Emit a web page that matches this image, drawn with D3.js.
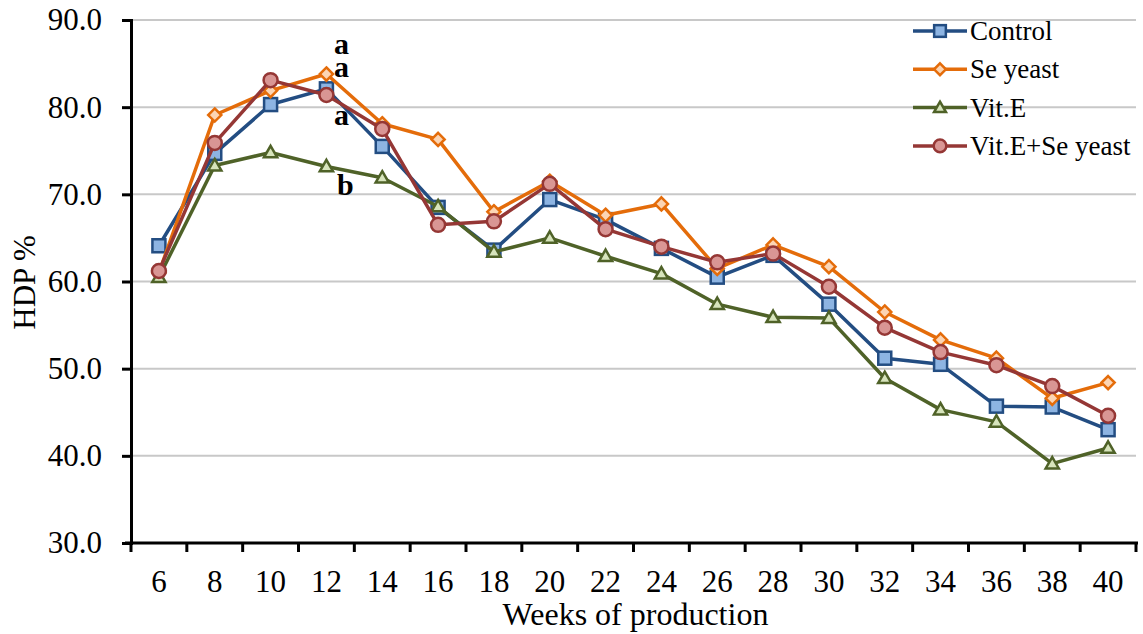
<!DOCTYPE html>
<html>
<head>
<meta charset="utf-8">
<script src="https://cdn.jsdelivr.net/npm/d3@7"></script>
<style>
  html, body { margin: 0; padding: 0; background: #fff; }
  svg { display: block; }
  svg text { font-family: "Liberation Serif", "Times New Roman", serif; }
</style>
</head>
<body>
<svg id="chart" width="1143" height="634"></svg>
<script>
// Hen-day production (HDP %) by week of production
const weeks = [6, 8, 10, 12, 14, 16, 18, 20, 22, 24, 26, 28, 30, 32, 34, 36, 38, 40];
const control   = [64.1, 74.7, 80.3, 82.1, 75.5, 68.5, 63.6, 69.4, 67.1, 63.8, 60.5, 63.0, 57.4, 51.2, 50.5, 45.7, 45.6, 43.0];
const seYeast   = [61.0, 79.1, 81.9, 83.8, 78.1, 76.3, 68.0, 71.5, 67.6, 68.9, 61.5, 64.2, 61.7, 56.5, 53.3, 51.2, 46.6, 48.4];
const vitE      = [60.5, 73.3, 74.8, 73.2, 71.9, 68.6, 63.4, 65.0, 62.9, 60.9, 57.4, 55.9, 55.8, 48.9, 45.3, 43.9, 39.1, 40.9];
const vitESe    = [61.2, 75.9, 83.1, 81.4, 77.5, 66.5, 66.9, 71.2, 66.0, 64.0, 62.2, 63.2, 59.4, 54.7, 51.9, 50.4, 48.0, 44.6];
const yTicks    = [30, 40, 50, 60, 70, 80, 90];
const seriesNames = ["Control", "Se yeast", "Vit.E", "Vit.E+Se yeast"];
// Significance letters at week 12 (baseline heights on the HDP scale)
const letterWeek = 12;
const letters    = [{ t: "a", v: 86.1 }, { t: "a", v: 83.5 }, { t: "a", v: 78.0 }, { t: "b", v: 69.9 }];

const series = [
  { name: seriesNames[0], values: control, stroke: "#234D82", fill: "#8DB4E2", shape: "square" },
  { name: seriesNames[1], values: seYeast, stroke: "#E46C0A", fill: "#FCD5B4", shape: "diamond" },
  { name: seriesNames[2], values: vitE,    stroke: "#4F6228", fill: "#D7E4BC", shape: "triangle" },
  { name: seriesNames[3], values: vitESe,  stroke: "#953735", fill: "#D99694", shape: "circle" }
];

const svg = d3.select("#chart");
const m = { left: 131, right: 1136, top: 20, bottom: 543 };

const x = d3.scaleBand().domain(weeks).range([m.left, m.right]).paddingInner(0).paddingOuter(0);
const y = d3.scaleLinear().domain([30, 90]).range([m.bottom, m.top]);
const cx = w => x(w) + x.bandwidth() / 2;

// Horizontal gridlines
svg.append("g")
  .selectAll("line")
  .data(yTicks.filter(t => t > 30))
  .join("line")
  .attr("x1", m.left).attr("x2", m.right)
  .attr("y1", d => y(d)).attr("y2", d => y(d))
  .attr("stroke", "#c8c8c8").attr("stroke-width", 2);

// Y axis
const yAxis = svg.append("g")
  .attr("transform", `translate(${m.left},0)`)
  .call(d3.axisLeft(y).tickValues(yTicks).tickFormat(d3.format(".1f")).tickSize(9).tickPadding(20))
  .attr("font-family", null).attr("font-size", null);
yAxis.select(".domain").attr("stroke", "#000").attr("stroke-width", 3);
yAxis.selectAll(".tick line").attr("stroke", "#000").attr("stroke-width", 3);
yAxis.selectAll(".tick text")
  .attr("font-size", 31).attr("fill", "#000");

// X axis: ticks at category boundaries
const xAxisG = svg.append("g").attr("transform", `translate(0,${m.bottom})`);
xAxisG.append("line")
  .attr("x1", m.left - 6).attr("x2", m.right + 2)
  .attr("stroke", "#000").attr("stroke-width", 3);
const boundaries = weeks.map(w => x(w)).concat([m.right]);
xAxisG.selectAll("line.tk")
  .data(boundaries)
  .join("line").attr("class", "tk")
  .attr("x1", d => d).attr("x2", d => d)
  .attr("y1", 0).attr("y2", 9)
  .attr("stroke", "#000").attr("stroke-width", 3);
xAxisG.selectAll("text")
  .data(weeks)
  .join("text")
  .attr("x", d => cx(d))
  .attr("y", 49)
  .attr("text-anchor", "middle")
  .attr("font-size", 31)
  .attr("fill", "#000")
  .text(d => d);

// Axis titles
svg.append("text")
  .attr("x", (m.left + m.right) / 2 + 2)
  .attr("y", 625)
  .attr("text-anchor", "middle")
  .attr("font-size", 32).attr("fill", "#000")
  .text("Weeks of production");
svg.append("text")
  .attr("transform", `translate(35,${y(60) + 1}) rotate(-90)`)
  .attr("text-anchor", "middle")
  .attr("font-size", 31).attr("fill", "#000")
  .text("HDP %");

// Marker drawing
function marker(g, shape, s) {
  if (shape === "square") {
    g.append("rect").attr("x", -6.5 * s).attr("y", -6.5 * s).attr("width", 13 * s).attr("height", 13 * s);
  } else if (shape === "diamond") {
    g.append("path").attr("d", d3.symbol().type(d3.symbolDiamond2).size(110 * s * s)());
  } else if (shape === "triangle") {
    g.append("path").attr("d", d3.symbol().type(d3.symbolTriangle2).size(125 * s * s)()).attr("transform", "translate(0,1)");
  } else {
    g.append("circle").attr("r", 7 * s);
  }
}

const line = d3.line().x((d, i) => cx(weeks[i])).y(d => y(d));

series.forEach(s => {
  const g = svg.append("g");
  g.append("path")
    .attr("d", line(s.values))
    .attr("fill", "none")
    .attr("stroke", s.stroke)
    .attr("stroke-width", 3.5)
    .attr("stroke-linejoin", "round");
  s.values.forEach((v, i) => {
    const mg = g.append("g")
      .attr("transform", `translate(${cx(weeks[i])},${y(v)})`)
      .attr("fill", s.fill).attr("stroke", s.stroke).attr("stroke-width", 2.5);
    marker(mg, s.shape, 1);
  });
});

// Significance letters
svg.append("g")
  .selectAll("text")
  .data(letters)
  .join("text")
  .attr("x", (d, i) => cx(letterWeek) + (d.t === "b" ? 19 : 15))
  .attr("y", d => y(d.v))
  .attr("text-anchor", "middle")
  .attr("font-size", 30).attr("font-weight", "bold").attr("fill", "#000")
  .text(d => d.t);

// Legend
const legend = svg.append("g").attr("transform", "translate(913,31)");
series.forEach((s, i) => {
  const g = legend.append("g").attr("transform", `translate(0,${i * 38.3})`);
  g.append("line").attr("x1", 0).attr("x2", 54).attr("y1", 0).attr("y2", 0)
    .attr("stroke", s.stroke).attr("stroke-width", 3.5);
  const mg = g.append("g").attr("transform", "translate(27,0)")
    .attr("fill", s.fill).attr("stroke", s.stroke).attr("stroke-width", 2.5);
  marker(mg, s.shape, 0.9);
  g.append("text").attr("x", 57).attr("y", 9)
    .attr("font-size", 27).attr("fill", "#000")
    .text(s.name);
});
</script>
</body>
</html>
